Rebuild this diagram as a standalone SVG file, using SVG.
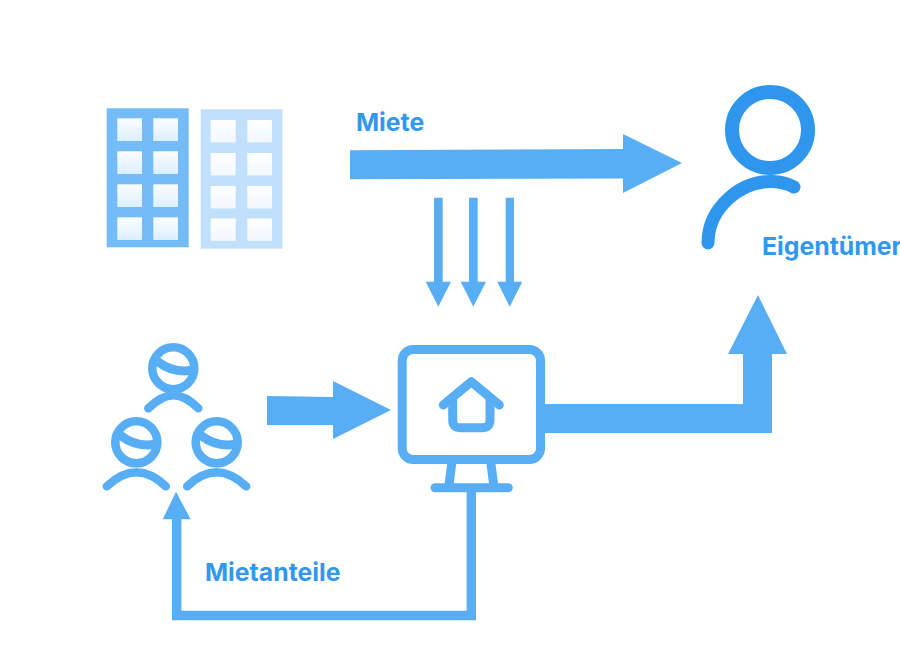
<svg xmlns="http://www.w3.org/2000/svg" width="900" height="650" viewBox="0 0 900 650">
<style>
.lbl{font-family:"Inter","Liberation Sans",sans-serif;font-weight:700;font-size:24.800px;fill:#3298ee}
.s{fill:none;stroke:#58aef5;stroke-linecap:round;stroke-linejoin:round}
.a{fill:#58aef5}
</style>
<defs>
<linearGradient id="w1" x1="0" y1="0" x2="0" y2="1"><stop offset="0" stop-color="#fbfdff"/><stop offset="1" stop-color="#dcefff"/></linearGradient>
<linearGradient id="w2" x1="0" y1="0" x2="0" y2="1"><stop offset="0" stop-color="#feffff"/><stop offset="1" stop-color="#f1f8ff"/></linearGradient>
<g id="head">
<circle r="21" class="s" stroke-width="8.600"/>
<path d="M-16-7Q0 5 18 2" class="s" stroke-width="9" stroke-linecap="butt"/>
</g>
</defs>
<rect width="900" height="650" fill="#fff"/>
<g id="connectors">
<path class="a" d="M350 150.300L623 149V134L682 163L623 193V178.500L350 179.300Z"/>
<path class="a" d="M434 197.700H442.700V281.700H451L438.300 306.700L425.700 281.700H434Z"/>
<path class="a" d="M469 197.700H477.700V281.700H486L473.300 306.700L460.700 281.700H469Z"/>
<path class="a" d="M505.700 197.700H514V281.700H522.300L509.700 306.700L497.300 281.700H505.700Z"/>
<path class="a" d="M267 396L333 397V381L391 410L333 439V425L267 425Z"/>
<path class="a" d="M545 404H743V354H728L758 295L787 354H772V433H545Z"/>
<path d="M471.300 492V615.500H176.700V519" fill="none" stroke="#58aef5" stroke-width="9.400"/>
<path class="a" d="M162.700 519.300L176 491.700L190.700 519.300Z"/>
</g>
<g id="building-a">
<rect x="106.700" y="108.300" width="82" height="139" fill="#74bcf7"/>
<g fill="url(#w1)">
<rect x="117.300" y="118.300" width="24.700" height="22.700"/><rect x="153.300" y="118.300" width="24.700" height="22.700"/>
<rect x="117.300" y="151.300" width="24.700" height="22.700"/><rect x="153.300" y="151.300" width="24.700" height="22.700"/>
<rect x="117.300" y="184.300" width="24.700" height="22.700"/><rect x="153.300" y="184.300" width="24.700" height="22.700"/>
<rect x="117.300" y="217.300" width="24.700" height="22.700"/><rect x="153.300" y="217.300" width="24.700" height="22.700"/>
</g>
</g>
<g id="building-b">
<rect x="200.700" y="109.300" width="81.700" height="139.400" fill="#c1e0fb"/>
<g fill="url(#w2)">
<rect x="210.700" y="120" width="25" height="22.400"/><rect x="247.300" y="120" width="24.700" height="22.400"/>
<rect x="210.700" y="153" width="25" height="22.400"/><rect x="247.300" y="153" width="24.700" height="22.400"/>
<rect x="210.700" y="186" width="25" height="22.400"/><rect x="247.300" y="186" width="24.700" height="22.400"/>
<rect x="210.700" y="218.500" width="25" height="22.400"/><rect x="247.300" y="218.500" width="24.700" height="22.400"/>
</g>
</g>
<g id="owner">
<circle cx="770" cy="130" r="38" fill="none" stroke="#2f96ee" stroke-width="14"/>
<path d="M708 243C708 208 740 181 772 181.500Q785 182 794 187" fill="none" stroke="#2f96ee" stroke-width="13" stroke-linecap="round"/>
<text class="lbl" x="762" y="254.500">Eigentümer</text>
</g>
<g id="tenants">
<use href="#head" x="173.300" y="368.300"/>
<path d="M148.300 408.300C157 400 165 395.300 173.300 395.300S190 400 198.300 408.300" class="s" stroke-width="8.500"/>
<use href="#head" x="136.300" y="442.300"/>
<path d="M106.800 486.300C117 477 127 472.300 136.300 472.300S156 477 165.800 486.300" class="s" stroke-width="8.500"/>
<use href="#head" x="216.700" y="442.300"/>
<path d="M187.200 486.300C197 477 207 472.300 216.700 472.300S236 477 246.200 486.300" class="s" stroke-width="8.500"/>
</g>
<g id="platform">
<rect x="402.200" y="349.500" width="138.300" height="110" rx="11" class="s" stroke-width="9"/>
<path d="M451.700 464L449 485M491 464L493.700 485" class="s" stroke-width="9" stroke-linecap="butt"/>
<path d="M435 487.700H508.300" class="s" stroke-width="9"/>
<path d="M443.300 405L471.300 381.700L499.300 405" class="s" stroke-width="9"/>
<path d="M452.700 398V420Q452.700 427.700 460 427.700H482Q490 427.700 490 420V398" class="s" stroke-width="9"/>
</g>
<text class="lbl" x="356" y="130.500">Miete</text>
<text class="lbl" x="205" y="580.500">Mietanteile</text>
</svg>
